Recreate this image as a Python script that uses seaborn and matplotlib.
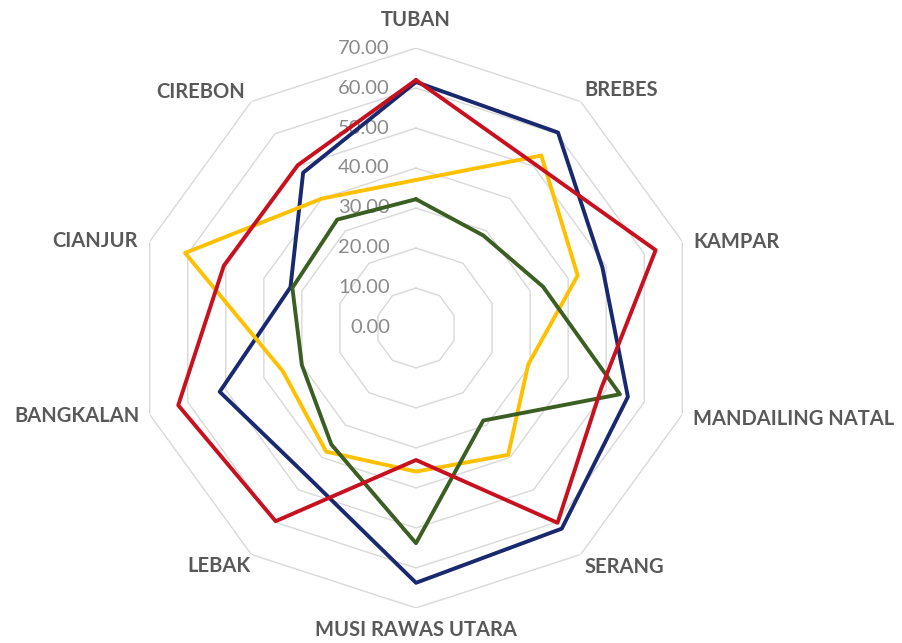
import numpy as np
import pandas as pd
import matplotlib
matplotlib.use("Agg")
import matplotlib.pyplot as plt
import seaborn as sns

# ---- data (clockwise from top) ----
categories = ["TUBAN", "BREBES", "KAMPAR", "MANDAILING NATAL", "SERANG",
              "MUSI RAWAS UTARA", "LEBAK", "BANGKALAN", "CIANJUR", "CIREBON"]
series_blue = [61.5, 60.4, 49.0, 55.7, 62.0, 63.7, 46.0, 51.6, 33.0, 48.0]
series_red = [62.0, 50.6, 63.0, 48.7, 60.2, 33.0, 59.7, 62.5, 50.5, 50.3]
series_yellow = [37.0, 53.3, 42.5, 29.5, 39.2, 35.9, 38.2, 35.0, 60.7, 40.0]
series_green = [32.2, 28.6, 33.4, 53.6, 28.6, 53.8, 36.0, 30.0, 32.5, 33.5]
tick_values = [0, 10, 20, 30, 40, 50, 60, 70]
tick_labels = ["0.00", "10.00", "20.00", "30.00", "40.00", "50.00", "60.00", "70.00"]

series = {"blue": series_blue, "yellow": series_yellow,
          "green": series_green, "red": series_red}
palette = {"blue": "#18296F", "red": "#C8101E", "yellow": "#FFC000", "green": "#3B5E22"}

sns.set_theme(style="white")
plt.rcParams["font.family"] = ["Lato", "DejaVu Sans"]

n = len(categories)
theta = np.arange(n) * 2 * np.pi / n
theta_closed = np.append(theta, 2 * np.pi)

rows = []
for name, vals in series.items():
    closed_vals = list(vals) + [vals[0]]
    for k in range(n + 1):
        rows.append({"series": name, "theta": theta_closed[k], "value": closed_vals[k]})
df = pd.DataFrame(rows)

W, H = 903, 643
fig = plt.figure(figsize=(W / 100, H / 100), dpi=100)
cx, cy, R = 416, 328, 280
ax = fig.add_axes([(cx - R) / W, (H - cy - R) / H, 2 * R / W, 2 * R / H], projection="polar")
ax.set_theta_zero_location("N")
ax.set_theta_direction(-1)
ax.grid(False)
ax.spines["polar"].set_visible(False)
ax.set_facecolor("none")

# decagon gridlines
for v in tick_values[1:]:
    ax.plot(theta_closed, [v] * (n + 1), color="#D9D9D9", lw=1.0, zorder=1)

for name in series:
    sub = df[df["series"] == name]
    sns.lineplot(data=sub, x="theta", y="value", sort=False, estimator=None,
                 color=palette[name], lw=2.8, ax=ax, legend=False, zorder=3)
ax.set_xlabel("")
ax.set_ylabel("")
ax.set_xticks([])
ax.set_yticks([])
ax.set_ylim(0, 70)

# value labels along top axis
px = 72 / 100
for v, lab in zip(tick_values, tick_labels):
    ax.annotate(lab, xy=(0, v), xytext=(-26 * px, 0), textcoords="offset points",
                ha="right", va="center", fontsize=14.5, color="#8A8A8A", zorder=2)

# category labels
offs = [(0, 28, "center"), (4, 11, "left"), (11, -1, "left"), (11, -4, "left"),
        (4, -12, "left"), (0, -22, "center"), (-1, -11, "right"), (-10, -1, "right"),
        (-12, 0, "right"), (-6, 9, "right")]
for k, (lab, (dx, dy, ha)) in enumerate(zip(categories, offs)):
    ax.annotate(lab, xy=(theta[k], 70), xytext=(dx * px, dy * px), textcoords="offset points",
                ha=ha, va="center", fontsize=14.5, fontweight="bold", color="#595959",
                annotation_clip=False)

fig.savefig("out.png", dpi=100, facecolor="white")
